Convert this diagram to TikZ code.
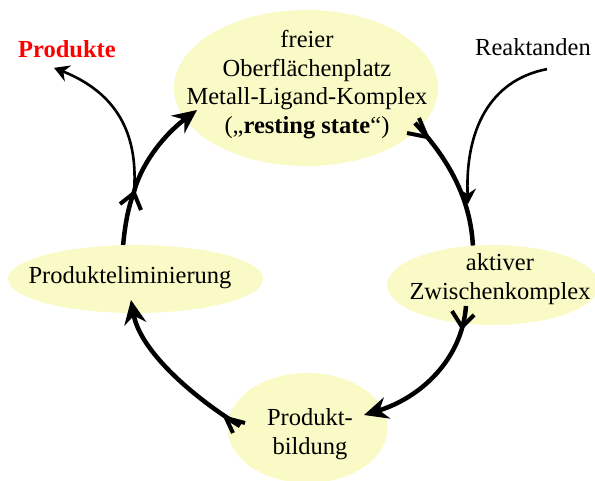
\documentclass[tikz,border=0pt]{standalone}
\usepackage{fontspec}
\setmainfont{Liberation Serif}
\usetikzlibrary{arrows.meta,shapes.geometric}
\definecolor{ellfill}{RGB}{250,250,198}
\definecolor{prodred}{RGB}{255,0,0}
\tikzset{
  ell/.style={ellipse, fill=ellfill, draw=none, inner sep=0pt},
  txt/.style={inner sep=0pt, align=center, font=\fontsize{24.5}{28.7}\selectfont},
  cyc/.style={line width=4.5pt},
  thinline/.style={line width=2.6pt},
  endhead/.style={-{Stealth[length=24pt,width=22pt,inset=8pt]}},
  tailv/.style={line width=4pt, line cap=butt, line join=miter},
  thinhead/.style={-{Stealth[length=15pt,width=17pt,inset=5pt]}}
}
\begin{document}
\begin{tikzpicture}[x=1pt,y=-1pt]
\useasboundingbox (0,0) rectangle (595,481);
% ellipses
\node[ell, minimum width=264pt, minimum height=156pt] (topE) at (306,88) {};
\node[ell, minimum width=255pt, minimum height=68pt] (elimE) at (135.5,279) {};
\node[ell, minimum width=212pt, minimum height=80pt] (aktE) at (493,285) {};
\node[ell, minimum width=160pt, minimum height=110pt] (bildE) at (307.5,428) {};
% texts
\node[txt] (topT) at (307,84.5) {freier\\Oberflächenplatz\\Metall-Ligand-Komplex\\(„\textbf{resting state}“)};
\node[txt] (elimT) at (130,278) {Produkteliminierung};
\node[txt] (aktT) at (500,279) {aktiver\\Zwischenkomplex};
\node[txt] (bildT) at (310,434) {Produkt-\\bildung};
\node[txt, text=prodred] (prod) at (67,49) {\textbf{Produkte}};
\node[txt] (reak) at (533,47.3) {Reaktanden};
% coordinates
\coordinate (junc) at (134,192);
\coordinate (tTop) at (197,110);
\coordinate (trs) at (415,123);
\coordinate (aks) at (466,306);
\coordinate (bildTip) at (364,415);
\coordinate (bis) at (240,426);
\coordinate (elimTip) at (131,300);
\coordinate (rj) at (468,204);
% tail barbs
\coordinate (v1) at (427,137); \coordinate (v1a) at (407,133); \coordinate (v1b) at (419,118);
\coordinate (v2) at (462,327); \coordinate (v2a) at (452,311); \coordinate (v2b) at (474,315);
\coordinate (v3) at (226,418); \coordinate (v3a) at (245,423); \coordinate (v3b) at (233,433);
\coordinate (v4) at (134,193); \coordinate (v4a) at (120,204); \coordinate (v4b) at (141,210);
% cycle arrows
\draw[cyc] (elimE.110) .. controls (125,225) and (128,208) .. (junc);
\draw[cyc, endhead] (junc) .. controls (140,168) and (160,138) .. (tTop);
\draw[cyc] (trs) .. controls (440,150) and (470,190) .. (aktE.117);
\draw[cyc, endhead] (aks) .. controls (462,360) and (420,398) .. (bildTip);
\draw[cyc, endhead] (bis) .. controls (190,395) and (140,350) .. (elimTip);
\draw[tailv] (v1a) -- (v1) -- (v1b);
\draw[tailv] (v2a) -- (v2) -- (v2b);
\draw[tailv] (v3a) -- (v3) -- (v3b);
\draw[tailv] (v4a) -- (v4) -- (v4b);
% thin arrows
\draw[thinline, thinhead] (junc) .. controls (138,140) and (122,95) .. ([xshift=-13pt,yshift=-10pt]prod.south);
\draw[thinline, thinhead] ([xshift=14pt,yshift=-13pt]reak.south) .. controls (490,80) and (465,130) .. (rj);
\end{tikzpicture}
\end{document}
